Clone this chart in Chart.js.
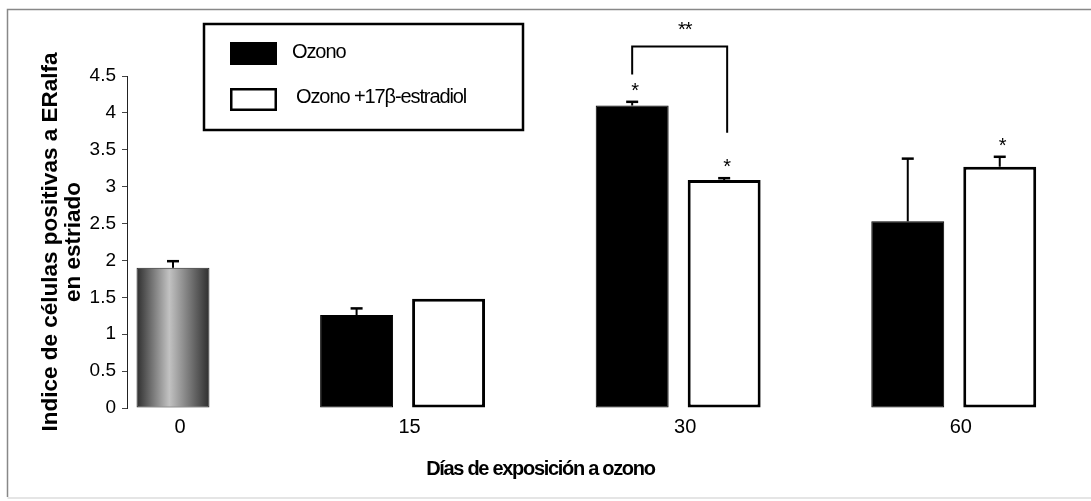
<!DOCTYPE html>
<html>
<head>
<meta charset="utf-8">
<script src="https://cdn.jsdelivr.net/npm/chart.js@4.4.1/dist/chart.umd.min.js"></script>
<style>
  html, body { margin: 0; padding: 0; background: #fff; overflow: hidden; }
  #wrap { width: 1091px; height: 501px; }
</style>
</head>
<body>
<div id="wrap"><canvas id="chart" width="1091" height="501"></canvas></div>
<script>
// Días de exposición a ozono
const days = ['0', '15', '30', '60'];

// Índice de células positivas a ERalfa (media) y error
const control = [1.90, null, null, null];
const controlErr = [0.09, null, null, null];
const ozono = [null, 1.26, 4.10, 2.53];
const ozonoErr = [null, 0.09, 0.05, 0.85];
const ozonoE2 = [null, 1.48, 3.09, 3.27];
const ozonoE2Err = [null, 0, 0.025, 0.135];

// marcas de significancia
const ozonoSig = ['', '', '*', ''];
const ozonoE2Sig = ['', '', '*', '*'];
const bracketDay = '30';
const bracketLevels = [4.52, 4.9, 3.73]; // pata izq, tope, pata der
const bracketLabel = '**';

const yTicks = [0, 0.5, 1, 1.5, 2, 2.5, 3, 3.5, 4, 4.5];
const yTickLabels = ['0', '0.5', '1', '1.5', '2', '2.5', '3', '3.5', '4', '4.5'];

// el rótulo "0" va bajo la barra control, no en el eje
const zeroLabelShift = 0.167;

Chart.defaults.font.family = '"Liberation Sans", Arial, sans-serif';
Chart.defaults.color = '#000';

// fondo y marco
const frame = {
  id: 'frame',
  beforeDraw(chart) {
    const ctx = chart.ctx;
    ctx.save();
    ctx.fillStyle = '#fff';
    ctx.fillRect(0, 0, chart.width, chart.height);
    ctx.strokeStyle = '#888';
    ctx.lineWidth = 1.5;
    ctx.beginPath();
    ctx.moveTo(7.5, 497);
    ctx.lineTo(7.5, 9.5);
    ctx.lineTo(chart.width, 9.5);
    ctx.stroke();
    ctx.strokeStyle = '#ddd';
    ctx.beginPath();
    ctx.moveTo(7.5, 498);
    ctx.lineTo(chart.width, 498);
    ctx.stroke();
    ctx.restore();
  }
};

// degradado de la barra control
const gradientBar = {
  id: 'gradientBar',
  beforeDatasetsDraw(chart) {
    const meta = chart.getDatasetMeta(2);
    const bar = meta.data[0];
    if (!bar) return;
    const g = chart.ctx.createLinearGradient(bar.x - bar.width / 2, 0, bar.x + bar.width / 2, 0);
    g.addColorStop(0, '#2e2e2e');
    g.addColorStop(0.45, '#c2c2c2');
    g.addColorStop(1, '#2e2e2e');
    bar.options.backgroundColor = g;
  }
};

// barras de error, asteriscos y corchete
const marks = {
  id: 'marks',
  afterDatasetsDraw(chart) {
    const { ctx, scales: { y } } = chart;
    ctx.save();
    ctx.strokeStyle = '#000';
    ctx.fillStyle = '#000';
    const errTops = [];
    chart.data.datasets.forEach((ds, i) => {
      const meta = chart.getDatasetMeta(i);
      errTops[i] = [];
      meta.data.forEach((bar, j) => {
        const v = ds.data[j];
        if (v == null) return;
        const e = ds.errors[j] || 0;
        const top = y.getPixelForValue(v + e);
        errTops[i][j] = top;
        if (!e) return;
        ctx.lineWidth = 2;
        ctx.beginPath();
        ctx.moveTo(bar.x, bar.y);
        ctx.lineTo(bar.x, top);
        ctx.stroke();
        ctx.lineWidth = 2.5;
        ctx.beginPath();
        ctx.moveTo(bar.x - 6, top);
        ctx.lineTo(bar.x + 6, top);
        ctx.stroke();
      });
    });

    ctx.font = '20px "Liberation Sans", Arial, sans-serif';
    ctx.textAlign = 'center';
    ctx.textBaseline = 'alphabetic';
    [[0, ozonoSig], [1, ozonoE2Sig]].forEach(([i, sig]) => {
      const meta = chart.getDatasetMeta(i);
      sig.forEach((s, j) => {
        if (!s) return;
        ctx.fillText(s, meta.data[j].x + 3, errTops[i][j] - 5);
      });
    });

    const k = days.indexOf(bracketDay);
    const x1 = chart.getDatasetMeta(0).data[k].x;
    const x2 = chart.getDatasetMeta(1).data[k].x + 3;
    const yTop = y.getPixelForValue(bracketLevels[1]);
    ctx.lineWidth = 2;
    ctx.beginPath();
    ctx.moveTo(x1, y.getPixelForValue(bracketLevels[0]));
    ctx.lineTo(x1, yTop);
    ctx.lineTo(x2, yTop);
    ctx.lineTo(x2, y.getPixelForValue(bracketLevels[2]));
    ctx.stroke();
    ctx.letterSpacing = '-1px';
    ctx.fillText(bracketLabel, (x1 + x2) / 2 + 5, yTop - 10);
    ctx.restore();
  }
};

// texto apretado para el título del eje x (se dibuja después de las barras)
const condensed = {
  id: 'condensed',
  afterDatasetsDraw(chart) { chart.ctx.letterSpacing = '-1.3px'; },
  afterDraw(chart) { chart.ctx.letterSpacing = '0px'; }
};

// leyenda en recuadro
const legendBox = {
  id: 'legendBox',
  afterDraw(chart) {
    const ctx = chart.ctx;
    ctx.save();
    ctx.letterSpacing = '-1.1px';
    ctx.strokeStyle = '#000';
    ctx.lineWidth = 2.5;
    ctx.strokeRect(204, 24, 319, 106);
    const ds = chart.data.datasets;
    ctx.fillStyle = ds[0].backgroundColor;
    ctx.fillRect(230, 42, 47, 23);
    ctx.fillStyle = ds[1].backgroundColor;
    ctx.fillRect(230, 88, 47, 23);
    ctx.strokeRect(231.25, 89.25, 44.5, 20.5);
    ctx.fillStyle = '#000';
    ctx.font = '20px "Liberation Sans", Arial, sans-serif';
    ctx.textBaseline = 'middle';
    ctx.textAlign = 'left';
    ctx.fillText(ds[0].label, 292, 52);
    ctx.fillText(ds[1].label, 296, 97);
    ctx.restore();
  }
};

const barBase = {
  borderSkipped: false,
  categoryPercentage: 0.8014,
  barPercentage: 0.793,
  clip: false
};

new Chart(document.getElementById('chart'), {
  type: 'bar',
  data: {
    labels: days,
    datasets: [
      Object.assign({ label: 'Ozono', data: ozono, errors: ozonoErr, stack: 'a',
        backgroundColor: '#000', borderColor: '#000', borderWidth: 1 }, barBase),
      Object.assign({ label: 'Ozono +17β-estradiol', data: ozonoE2, errors: ozonoE2Err, stack: 'b',
        backgroundColor: '#fff', borderColor: '#000', borderWidth: 3 }, barBase),
      Object.assign({ label: 'Control', data: control, errors: controlErr, stack: 'b',
        backgroundColor: '#999', borderColor: '#222', borderWidth: 1 }, barBase)
    ]
  },
  options: {
    responsive: false,
    animation: false,
    layout: { padding: { left: 0, right: 137.25, top: 76, bottom: 0 } },
    plugins: {
      legend: { display: false },
      tooltip: { enabled: false }
    },
    scales: {
      x: {
        offset: false,
        grid: { display: false, drawTicks: false, z: 1 },
        border: { display: false },
        afterFit: s => { s.height = 93; },
        afterBuildTicks: s => { s.ticks[0].value = zeroLabelShift; },
        ticks: {
          autoSkip: false,
          maxRotation: 0,
          padding: 7,
          labelOffset: 7,
          font: { size: 20 },
          callback: (v, i) => days[i]
        },
        title: {
          display: true,
          text: 'Días de exposición a ozono',
          font: { size: 20, weight: 'bold' },
          padding: { top: 0, bottom: 20 }
        }
      },
      y: {
        stacked: false,
        min: 0,
        max: 4.5,
        afterFit: s => { s.width = 127; },
        afterBuildTicks: s => { s.ticks = yTicks.map(v => ({ value: v })); },
        grid: { drawOnChartArea: false, drawTicks: true, tickLength: 5, color: '#444' },
        border: { display: true, color: '#222', width: 1 },
        ticks: { padding: 6, font: { size: 19 }, callback: (v, i) => yTickLabels[i] },
        title: {
          display: true,
          text: ['Indice de células positivas a ERalfa', 'en estriado'],
          font: { size: 22.5, weight: 'bold', lineHeight: 1.04 },
          padding: { top: 39, bottom: 0 }
        }
      }
    }
  },
  plugins: [frame, gradientBar, marks, legendBox, condensed]
});
</script>
</body>
</html>
